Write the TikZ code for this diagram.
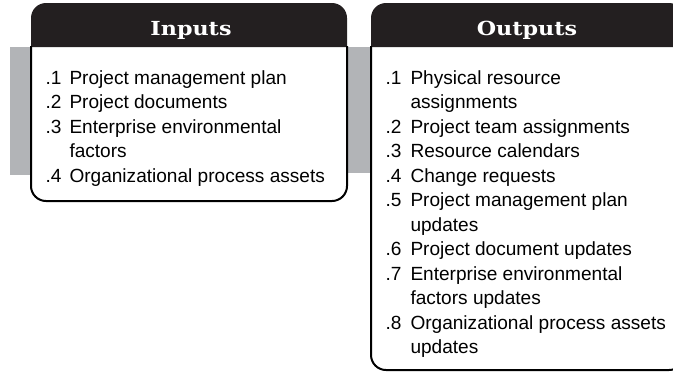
\documentclass[tikz,border=0pt]{standalone}
\usepackage{fontspec}
\setmainfont{Liberation Sans}
\newfontfamily\headfont[FakeStretch=1.15]{DejaVu Serif}
\definecolor{headblack}{RGB}{35,31,32}
\definecolor{bargray}{RGB}{178,180,183}

\tikzset{every picture/.style={line width=0.75pt}}
\tikzset{
  headtext/.style={anchor=base,inner sep=0.75pt,text=white,font=\headfont\bfseries\fontsize{14.5}{16}\selectfont},
  itemnum/.style={anchor=base west,inner sep=0pt,font=\fontsize{14.3}{18.4}\selectfont},
  itemtext/.style={anchor=base west,inner sep=0pt,font=\fontsize{14.3}{18.4}\selectfont},
  boxline/.style={line width=1.5pt,rounded corners=11.25pt}
}

\begin{document}
\begin{tikzpicture}[x=0.75pt,y=0.75pt,yscale=-1,xscale=1]
\path[use as bounding box] (0,0) rectangle (673,372);
\clip (0,0) rectangle (673,372);

%Gray bars
\fill[bargray] (10,47) rectangle (32,175);
\fill[bargray] (347,47) rectangle (371,173);

%Inputs box
\fill[headblack] (31,47) [rounded corners=11.25pt] -- (31,3) -- (347,3) [sharp corners] -- (347,47) -- cycle;
\draw[boxline] (31,46) -- (31,201) -- (347,201) [sharp corners] -- (347,46);

%Outputs box
\fill[headblack] (371,47) [rounded corners=11.25pt] -- (371,3) -- (684,3) [sharp corners] -- (684,47) -- cycle;
\draw[boxline] (371,46) -- (371,370) -- (684,370) [sharp corners] -- (684,46);

% Text Node
\draw (191,35) node [headtext] (intitle) {Inputs};
% Text Node
\draw (527,35) node [headtext] (outtitle) {Outputs};

%Inputs list
\draw (45,84) node [itemnum] (in1) {.1};
\draw (69,84) node [itemtext] (intext1) {Project management plan};
\draw (45,108.5) node [itemnum] (in2) {.2};
\draw (69,108.5) node [itemtext] (intext2) {Project documents};
\draw (45,133) node [itemnum] (in3) {.3};
\draw (69,133) node [itemtext] (intext3) {Enterprise environmental};
\draw (69,157.5) node [itemtext] (intext3b) {factors};
\draw (45,182) node [itemnum] (in4) {.4};
\draw (69,182) node [itemtext] (intext4) {Organizational process assets};

%Outputs list
\draw (385,84) node [itemnum] (out1) {.1};
\draw (410,84) node [itemtext] (outtext1) {Physical resource};
\draw (410,108.5) node [itemtext] (outtext1b) {assignments};
\draw (385,133) node [itemnum] (out2) {.2};
\draw (410,133) node [itemtext] (outtext2) {Project team assignments};
\draw (385,157.5) node [itemnum] (out3) {.3};
\draw (410,157.5) node [itemtext] (outtext3) {Resource calendars};
\draw (385,182) node [itemnum] (out4) {.4};
\draw (410,182) node [itemtext] (outtext4) {Change requests};
\draw (385,206.5) node [itemnum] (out5) {.5};
\draw (410,206.5) node [itemtext] (outtext5) {Project management plan};
\draw (410,231) node [itemtext] (outtext5b) {updates};
\draw (385,255.5) node [itemnum] (out6) {.6};
\draw (410,255.5) node [itemtext] (outtext6) {Project document updates};
\draw (385,280) node [itemnum] (out7) {.7};
\draw (410,280) node [itemtext] (outtext7) {Enterprise environmental};
\draw (410,304.5) node [itemtext] (outtext7b) {factors updates};
\draw (385,329) node [itemnum] (out8) {.8};
\draw (410,329) node [itemtext] (outtext8) {Organizational process assets};
\draw (410,353.5) node [itemtext] (outtext8b) {updates};

\end{tikzpicture}
\end{document}
